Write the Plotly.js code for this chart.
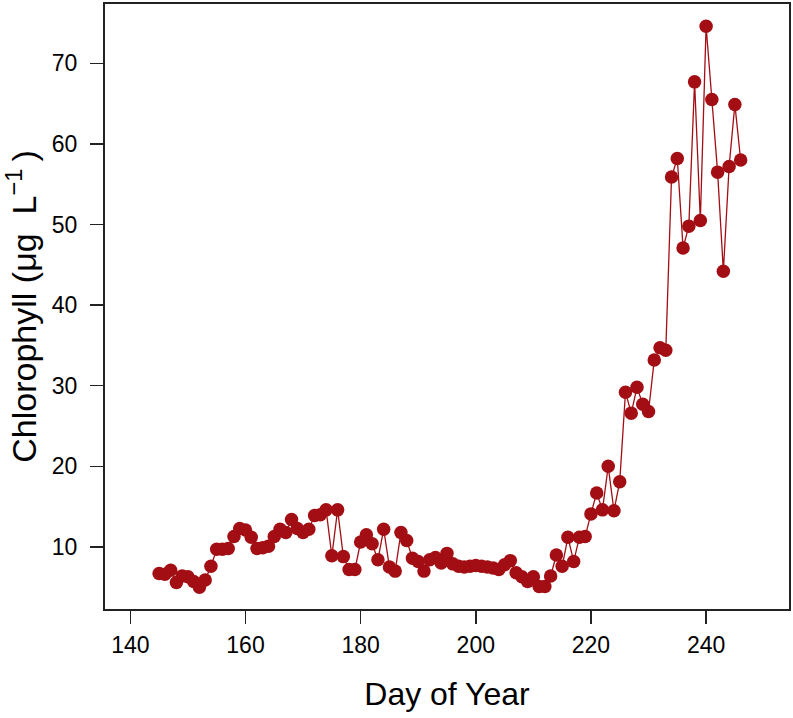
<!DOCTYPE html>
<html>
<head>
<meta charset="utf-8">
<script src="https://cdn.plot.ly/plotly-3.0.1.min.js"></script>
<style>
html,body{margin:0;padding:0;background:#fff;}
#chart{width:793px;height:718px;}
</style>
</head>
<body>
<div id="chart"></div>
<script>
// Day of year
var days = [145,146,147,148,149,150,151,152,153,154,155,156,157,158,159,160,161,162,163,164,
  165,166,167,168,169,170,171,172,173,174,175,176,177,178,179,180,181,182,183,184,
  185,186,187,188,189,190,191,192,193,194,195,196,197,198,199,200,201,202,203,204,
  205,206,207,208,209,210,211,212,213,214,215,216,217,218,219,220,221,222,223,224,
  225,226,227,228,229,230,231,232,233,234,235,236,237,238,239,240,241,242,243,244,
  245,246];
// Chlorophyll (ug/L)
var chlorophyll = [6.7,6.6,7.1,5.6,6.4,6.3,5.7,5.0,5.9,7.6,9.7,9.7,9.8,11.3,12.3,12.1,11.2,9.8,9.9,10.1,
  11.3,12.2,11.8,13.4,12.3,11.8,12.2,13.9,14.0,14.6,8.9,14.6,8.8,7.2,7.2,10.6,11.5,10.4,8.4,12.2,
  7.5,7.0,11.8,10.8,8.6,8.2,7.0,8.4,8.7,8.0,9.2,7.9,7.6,7.5,7.6,7.7,7.6,7.5,7.4,7.2,
  7.8,8.3,6.8,6.3,5.7,6.3,5.1,5.1,6.4,9.0,7.6,11.2,8.2,11.2,11.3,14.1,16.7,14.6,20.0,14.5,
  18.1,29.2,26.6,29.8,27.7,26.8,33.2,34.7,34.4,55.9,58.2,47.1,49.8,67.7,50.5,74.6,65.5,56.5,44.2,57.2,
  64.9,58.0];
var xTicks = [140,160,180,200,220,240];
var yTicks = [10,20,30,40,50,60,70];

var trace = {
  x: days, y: chlorophyll, type: 'scatter', mode: 'lines+markers',
  line: {color: '#A20E14', width: 1.3},
  marker: {color: '#A20E14', size: 13.5, line: {width: 0}},
  hoverinfo: 'x+y'
};
var font = 'Liberation Sans, Arial, Helvetica, sans-serif';
var layout = {
  width: 793, height: 718,
  margin: {l: 105, r: 4, t: 4, b: 109},
  paper_bgcolor: '#fff', plot_bgcolor: '#fff',
  showlegend: false,
  font: {family: font, color: '#000'},
  xaxis: {
    range: [135.6, 254.4], tickvals: xTicks, ticktext: xTicks.map(String),
    ticks: 'outside', ticklen: 13, tickwidth: 1.5, tickcolor: '#222',
    showline: true, mirror: true, linecolor: '#222', linewidth: 2,
    showgrid: false, zeroline: false,
    ticklabelstandoff: 1,
    tickfont: {size: 23, family: font, color: '#000'},
    title: {text: 'Day of Year', font: {size: 32, family: font, color: '#000'}, standoff: 26}
  },
  yaxis: {
    range: [2.30, 77.36], tickvals: yTicks, ticktext: yTicks.map(String),
    ticks: 'outside', ticklen: 13, tickwidth: 1.5, tickcolor: '#222',
    showline: true, mirror: true, linecolor: '#222', linewidth: 2,
    showgrid: false, zeroline: false,
    ticklabelstandoff: 8,
    tickfont: {size: 23, family: font, color: '#000'},
    title: {text: 'Chlorophyll (μg\u00a0 L<sup>−1</sup>\u2009)', font: {size: 34, family: font, color: '#000'}, standoff: 8}
  }
};
Plotly.newPlot('chart', [trace], layout, {displayModeBar: false, staticPlot: true});
</script>
</body>
</html>
